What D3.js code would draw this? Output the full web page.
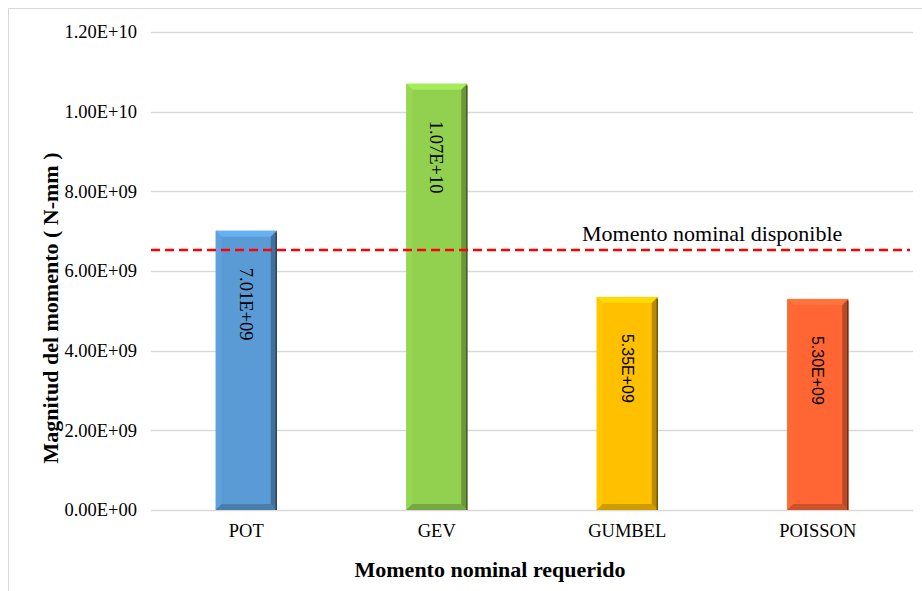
<!DOCTYPE html>
<html><head><meta charset="utf-8">
<script src="https://cdn.jsdelivr.net/npm/d3@7"></script>
<style>body{margin:0;background:#fff}svg{display:block}text{font-family:"Liberation Serif","Times New Roman",serif;fill:#000}</style>
</head><body>
<svg id="c" width="922" height="591"></svg>
<script>
const categories = ["POT","GEV","GUMBEL","POISSON"];
const values = [7.01e9, 1.07e10, 5.35e9, 5.30e9];
const labels = ["7.01E+09","1.07E+10","5.35E+09","5.30E+09"];
const colors = ["#5B9BD5","#92D050","#FFC000","#FF6633"];
const yTicks = [0, 2e9, 4e9, 6e9, 8e9, 1e10, 1.2e10];
const yTickLabels = ["0.00E+00","2.00E+09","4.00E+09","6.00E+09","8.00E+09","1.00E+10","1.20E+10"];
const refValue = [6.53e9];
const refLabel = "Momento nominal disponible";

(function(){
const svg = d3.select("#c");
svg.append("rect").attr("x",8.5).attr("y",8.5).attr("width",930).attr("height",600)
  .attr("fill","#fff").attr("stroke","#d9d9d9");

const pl=151, pr=913, pt=32, pb=510;
const x = d3.scaleBand().domain(categories).range([pl,pr]);
const y = d3.scaleLinear().domain([0,1.2e10]).range([pb,pt]);

svg.append("g").selectAll("line").data(yTicks).join("line")
  .attr("x1",pl).attr("x2",pr).attr("y1",d=>Math.round(y(d))+0.5).attr("y2",d=>Math.round(y(d))+0.5)
  .attr("stroke","#d9d9d9").attr("stroke-width",1.3);

svg.append("g").selectAll("text").data(yTicks).join("text")
  .attr("x",137).attr("y",d=>y(d)).attr("dy","0.35em").attr("text-anchor","end")
  .style("font-size","18.5px").text((d,i)=>yTickLabels[i]);

const bw = 61, bev = 6;
const g = svg.append("g");
categories.forEach((c,i)=>{
  const cx = x(c)+x.bandwidth()/2;
  const x0 = cx-bw/2, x1 = cx+bw/2, y0 = y(values[i]), y1 = y(0);
  const base = d3.color(colors[i]);
  const bg = g.append("g");
  bg.append("rect").attr("x",x0).attr("y",y0).attr("width",bw).attr("height",y1-y0).attr("fill",base);
  const poly = (pts,fill)=>bg.append("polygon").attr("points",pts.map(p=>p.join(",")).join(" ")).attr("fill",fill);
  poly([[x0,y0],[x1,y0],[x1-bev,y0+bev],[x0+bev,y0+bev]], base.brighter(0.35));
  poly([[x0,y0],[x0+bev,y0+bev],[x0+bev,y1-bev],[x0,y1]], base.brighter(0.1));
  poly([[x1,y0],[x1,y1],[x1-bev,y1-bev],[x1-bev,y0+bev]], base.darker(0.9));
  poly([[x0,y1],[x0+bev,y1-bev],[x1-bev,y1-bev],[x1,y1]], base.darker(0.6));
  bg.append("line").attr("x1",x1-0.5).attr("x2",x1-0.5).attr("y1",y0+2).attr("y2",y1).attr("stroke",base.darker(2.2)).attr("stroke-width",1.5);
  const sans = i >= 2;
  bg.append("text").attr("transform",`translate(${cx},${y0+37}) rotate(90)`)
    .attr("dy","0.35em").attr("text-anchor","start")
    .style("font-family", sans ? "'Liberation Sans',Arial,sans-serif" : null)
    .style("font-size", sans ? "16px" : "18.5px").text(labels[i]);
});

svg.append("line").attr("x1",pl).attr("x2",910).attr("y1",y(refValue[0])).attr("y2",y(refValue[0]))
  .attr("stroke","#ff0000").attr("stroke-width",2.5).attr("stroke-dasharray","9,5");
svg.append("text").attr("x",582).attr("y",y(refValue[0])-9).style("font-size","22px").text(refLabel);

svg.append("g").selectAll("text").data(categories).join("text")
  .attr("x",d=>x(d)+x.bandwidth()/2).attr("y",537).attr("text-anchor","middle")
  .style("font-size","18.5px").text(d=>d);

svg.append("text").attr("x",490).attr("y",577).attr("text-anchor","middle")
  .style("font-size","22px").style("font-weight","bold").text("Momento nominal requerido");
svg.append("text").attr("transform",`translate(50,308) rotate(-90)`)
  .attr("dy","0.35em").attr("text-anchor","middle")
  .style("font-size","22px").style("font-weight","bold").text("Magnitud del momento ( N-mm )");
})();
</script>
</body></html>
